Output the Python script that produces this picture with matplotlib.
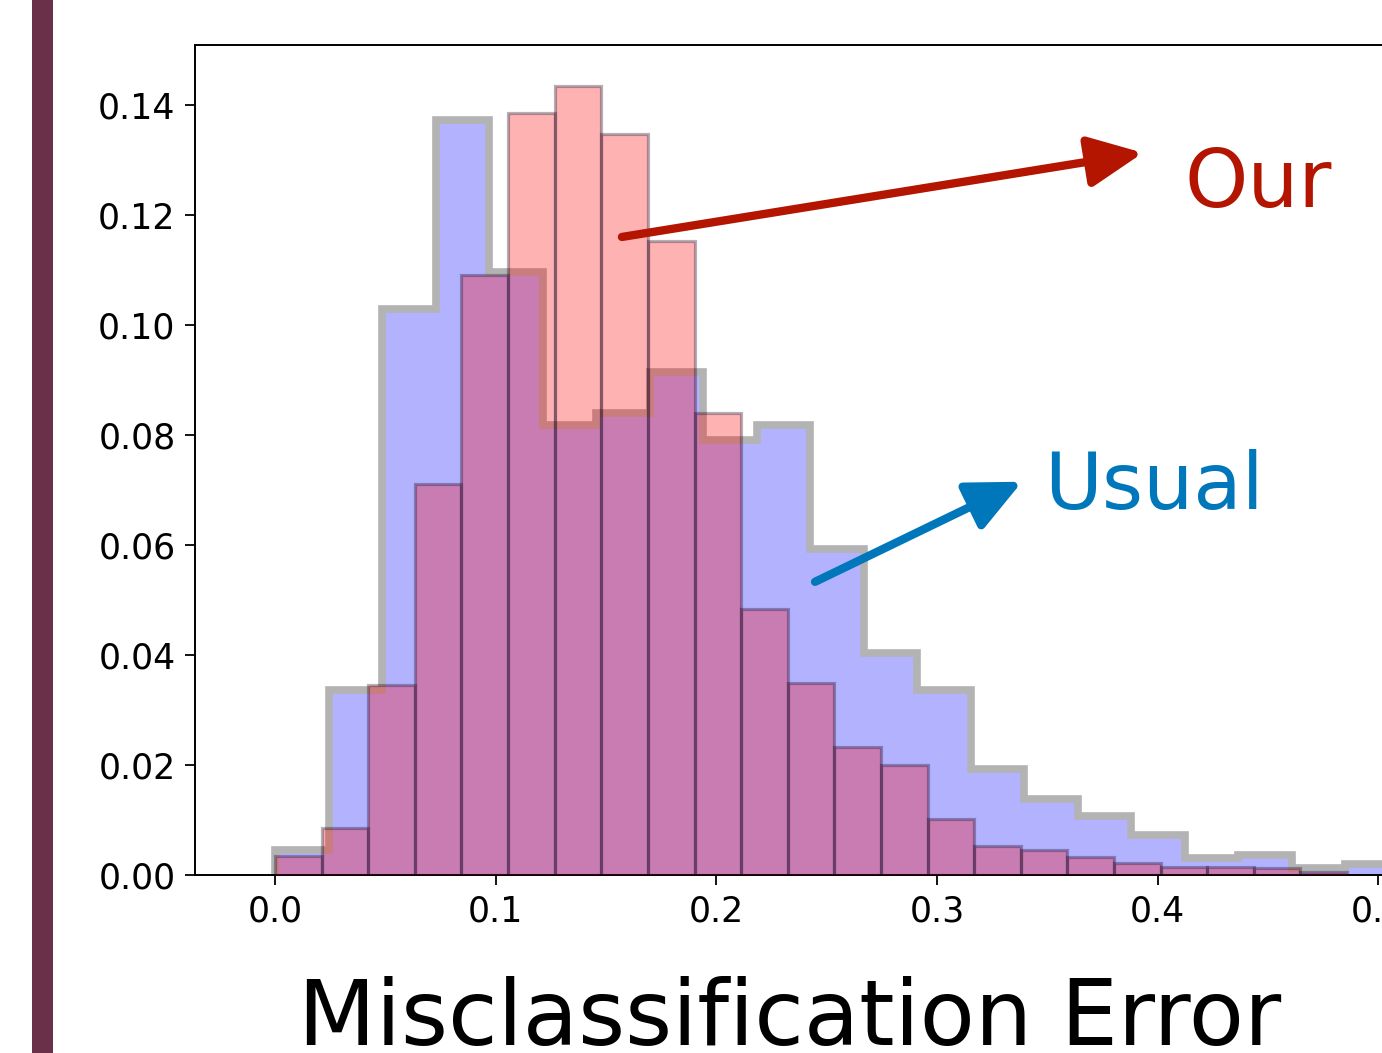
import numpy as np
import matplotlib
matplotlib.use("Agg")
import matplotlib.pyplot as plt
from matplotlib.patches import Rectangle

# ---- data (fractions per bin) ----
usual_bin_width = 0.02425
usual_heights = [0.0045, 0.0336, 0.1029, 0.1373, 0.1096, 0.0818, 0.0840,
                 0.0915, 0.0790, 0.0818, 0.0593, 0.0404, 0.0336, 0.0193,
                 0.0138, 0.0107, 0.0073, 0.0031, 0.0036, 0.0013, 0.0020]

our_bin_width = 0.02112
our_heights = [0.0035, 0.0085, 0.0345, 0.0711, 0.1090, 0.1385, 0.1435,
               0.1347, 0.1153, 0.0840, 0.0484, 0.0349, 0.0233, 0.0200,
               0.0102, 0.0053, 0.0045, 0.0033, 0.0022, 0.0015, 0.0015,
               0.0012, 0.0005]

x_ticks = [0.0, 0.1, 0.2, 0.3, 0.4, 0.5]
y_ticks = [0.00, 0.02, 0.04, 0.06, 0.08, 0.10, 0.12, 0.14]

usual_edges = np.arange(len(usual_heights) + 1) * usual_bin_width
our_edges = np.arange(len(our_heights) + 1) * our_bin_width
usual_centers = (usual_edges[:-1] + usual_edges[1:]) / 2
our_centers = (our_edges[:-1] + our_edges[1:]) / 2

W, H, DPI = 1382, 1053, 100
fig = plt.figure(figsize=(W / DPI, H / DPI), dpi=DPI)
fig.patch.set_facecolor("white")

# left maroon bar (part of neighbouring panel)
fig.patches.append(Rectangle((32 / W, 0), 21 / W, 1, transform=fig.transFigure,
                             facecolor="#6b3049", edgecolor="none", zorder=0))

ax = fig.add_axes([195 / W, 1 - 875 / H, (1384 - 195) / W, (875 - 45) / H])

# usual: blue fill + thick gray step outline
ax.hist(usual_centers, bins=usual_edges, weights=usual_heights,
        histtype="stepfilled", color="blue", alpha=0.3, zorder=1)
ax.hist(usual_centers, bins=usual_edges, weights=usual_heights,
        histtype="step", color="#b3b3b3", linewidth=5.5, zorder=2)

# our: red bars with translucent dark edges
ax.hist(our_centers, bins=our_edges, weights=our_heights,
        histtype="bar", color="red", alpha=0.3, edgecolor="#000020",
        linewidth=2.3, zorder=3)

ax.set_xlim(-0.03625, 0.5025)
ax.set_ylim(0, 0.1509)
ax.set_xticks(x_ticks)
ax.set_xticklabels([f"{v:.1f}" for v in x_ticks])
ax.set_yticks(y_ticks)
ax.set_yticklabels([f"{v:.2f}" for v in y_ticks])
ax.tick_params(axis="both", labelsize=25, length=7, width=1.3, pad=7)
for s in ax.spines.values():
    s.set_linewidth(1.4)

ax.set_xlabel("Misclassification Error", fontsize=65, labelpad=34)

# annotations
arrow_style = "-|>,head_length=1.5,head_width=0.7"
ax.annotate("", xy=(0.3933, 0.1313), xytext=(0.1572, 0.1160),
            arrowprops=dict(arrowstyle=arrow_style, mutation_scale=22,
                            color="#b31500", lw=6, shrinkA=0, shrinkB=0),
            zorder=5)
ax.text(0.4119, 0.1215, "Our", color="#b31500", fontsize=58, zorder=5)

ax.annotate("", xy=(0.3385, 0.0715), xytext=(0.2447, 0.0533),
            arrowprops=dict(arrowstyle=arrow_style, mutation_scale=22,
                            color="#0077bb", lw=6, shrinkA=0, shrinkB=0),
            zorder=5)
ax.text(0.3485, 0.0665, "Usual", color="#0077bb", fontsize=57, zorder=5)

fig.savefig("out.png", dpi=DPI)
